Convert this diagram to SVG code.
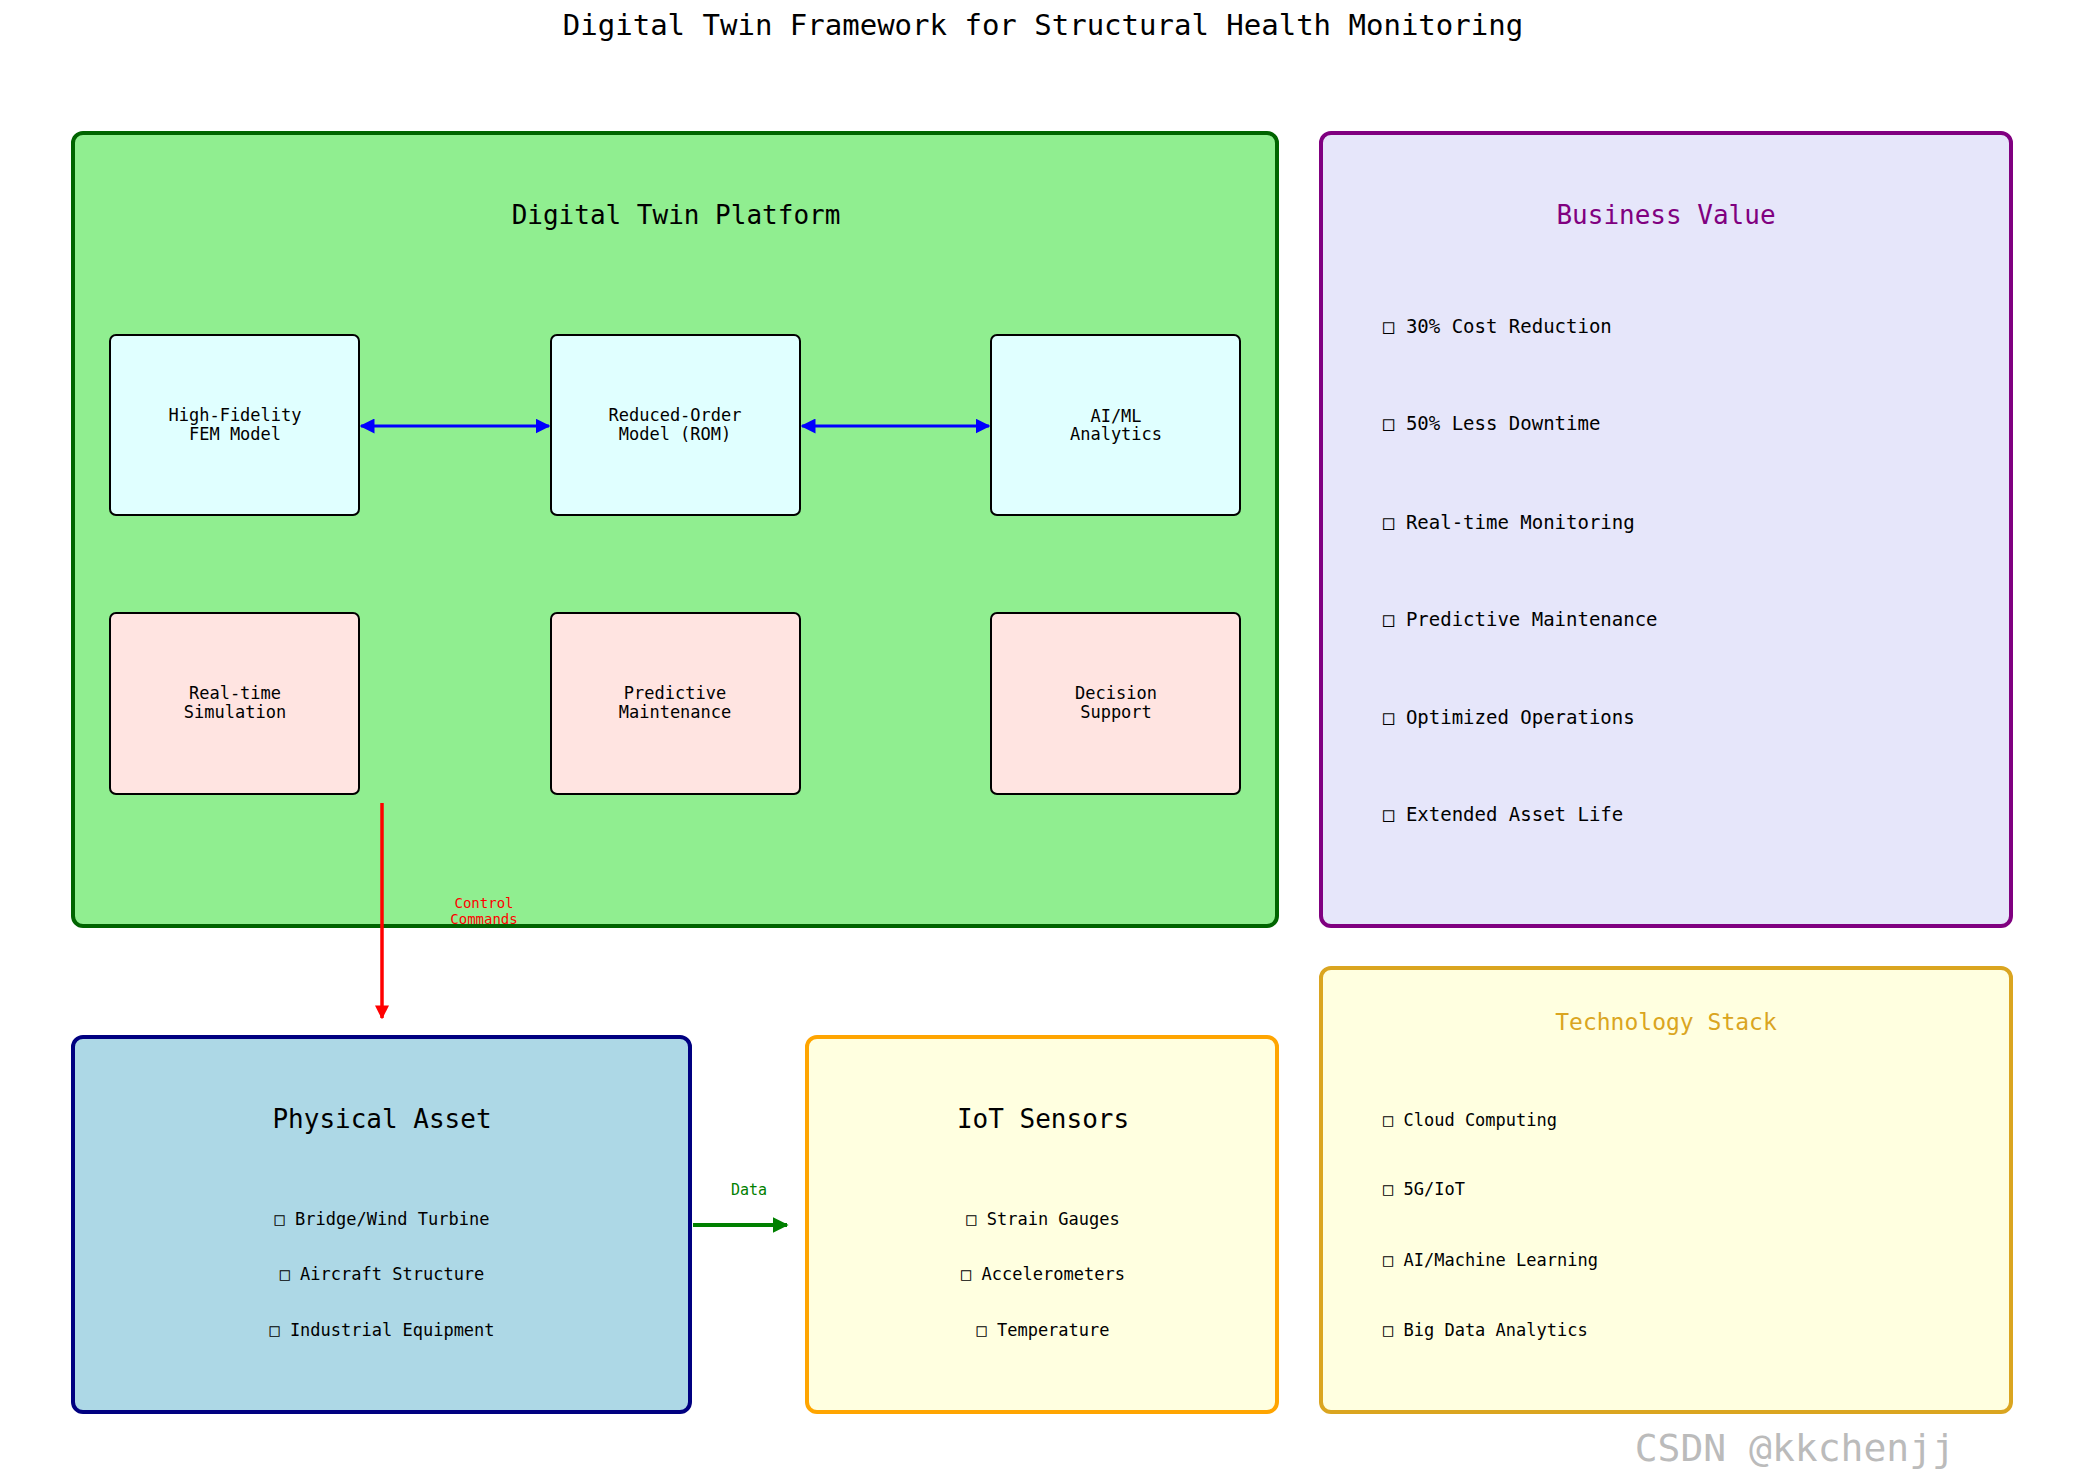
<svg xmlns="http://www.w3.org/2000/svg" width="2085" height="1484" viewBox="0 0 2085 1484">
<style>
text{font-family:"DejaVu Sans Mono","Liberation Mono",monospace;dominant-baseline:middle}
.c{text-anchor:middle}
.big{font-size:26px}
.t{font-size:17px}
.i{font-size:17px}
.b{font-size:19px}
.inner{stroke:#000;stroke-width:2}
</style>
<defs>
<marker id="ab" viewBox="0 0 10 10" refX="9" refY="5" markerWidth="5" markerHeight="5" orient="auto-start-reverse"><path d="M0,0L10,5L0,10z" fill="#0000ff"/></marker>
<marker id="ar" viewBox="0 0 10 10" refX="9" refY="5" markerWidth="4" markerHeight="4" orient="auto"><path d="M0,0L10,5L0,10z" fill="#ff0000"/></marker>
<marker id="ag" viewBox="0 0 10 10" refX="9" refY="5" markerWidth="4" markerHeight="4" orient="auto"><path d="M0,0L10,5L0,10z" fill="#008000"/></marker>
</defs>
<rect width="2085" height="1484" fill="#fff"/>
<text x="1043" y="27" class="c" font-size="29">Digital Twin Framework for Structural Health Monitoring</text>
<g id="platform">
<rect x="73" y="133" width="1204" height="793" rx="10" fill="#90EE90" stroke="#006400" stroke-width="4"/>
<text x="676" y="216" class="c big">Digital Twin Platform</text>
</g>
<g id="fem"><rect class="inner" x="110" y="335" width="249" height="180" rx="6" fill="#E0FFFF"/><text x="235" y="416" class="c t">High-Fidelity</text><text x="235" y="435" class="c t">FEM Model</text></g>
<g id="rom"><rect class="inner" x="551" y="335" width="249" height="180" rx="6" fill="#E0FFFF"/><text x="675" y="416" class="c t">Reduced-Order</text><text x="675" y="435" class="c t">Model (ROM)</text></g>
<g id="aiml"><rect class="inner" x="991" y="335" width="249" height="180" rx="6" fill="#E0FFFF"/><text x="1116" y="417" class="c t">AI/ML</text><text x="1116" y="435" class="c t">Analytics</text></g>
<g id="sim"><rect class="inner" x="110" y="613" width="249" height="181" rx="6" fill="#FFE4E1"/><text x="235" y="694" class="c t">Real-time</text><text x="235" y="713" class="c t">Simulation</text></g>
<g id="pm"><rect class="inner" x="551" y="613" width="249" height="181" rx="6" fill="#FFE4E1"/><text x="675" y="694" class="c t">Predictive</text><text x="675" y="713" class="c t">Maintenance</text></g>
<g id="ds"><rect class="inner" x="991" y="613" width="249" height="181" rx="6" fill="#FFE4E1"/><text x="1116" y="694" class="c t">Decision</text><text x="1116" y="713" class="c t">Support</text></g>
<g id="business">
<rect x="1321" y="133" width="690" height="793" rx="10" fill="#E6E6FA" stroke="#800080" stroke-width="4"/>
<text x="1666" y="216" class="c big" fill="#800080" font-size="24">Business Value</text>
<text x="1383" y="327" class="b">□ 30% Cost Reduction</text>
<text x="1383" y="424" class="b">□ 50% Less Downtime</text>
<text x="1383" y="523" class="b">□ Real-time Monitoring</text>
<text x="1383" y="620" class="b">□ Predictive Maintenance</text>
<text x="1383" y="718" class="b">□ Optimized Operations</text>
<text x="1383" y="815" class="b">□ Extended Asset Life</text>
</g>
<g id="physical">
<rect x="73" y="1037" width="617" height="375" rx="10" fill="#ADD8E6" stroke="#000080" stroke-width="4"/>
<text x="382" y="1120" class="c big" font-size="24">Physical Asset</text>
<text x="382" y="1220" class="c i">□ Bridge/Wind Turbine</text>
<text x="382" y="1275" class="c i">□ Aircraft Structure</text>
<text x="382" y="1331" class="c i">□ Industrial Equipment</text>
</g>
<g id="iot">
<rect x="807" y="1037" width="470" height="375" rx="10" fill="#FFFFE0" stroke="#FFA500" stroke-width="4"/>
<text x="1043" y="1120" class="c big" font-size="24">IoT Sensors</text>
<text x="1043" y="1220" class="c i">□ Strain Gauges</text>
<text x="1043" y="1275" class="c i">□ Accelerometers</text>
<text x="1043" y="1331" class="c i">□ Temperature</text>
</g>
<g id="tech">
<rect x="1321" y="968" width="690" height="444" rx="10" fill="#FFFFE0" stroke="#DAA520" stroke-width="4"/>
<text x="1666" y="1023" class="c" font-size="23" fill="#DAA520">Technology Stack</text>
<text x="1383" y="1121" class="i">□ Cloud Computing</text>
<text x="1383" y="1190" class="i">□ 5G/IoT</text>
<text x="1383" y="1261" class="i">□ AI/Machine Learning</text>
<text x="1383" y="1331" class="i">□ Big Data Analytics</text>
</g>
<g id="connectors">
<line x1="361" y1="426" x2="549" y2="426" stroke="#0000ff" stroke-width="3" marker-start="url(#ab)" marker-end="url(#ab)"/>
<line x1="802" y1="426" x2="989" y2="426" stroke="#0000ff" stroke-width="3" marker-start="url(#ab)" marker-end="url(#ab)"/>
<line x1="382" y1="803" x2="382" y2="1018" stroke="#ff0000" stroke-width="3.5" marker-end="url(#ar)"/>
<text x="484" y="904" class="c" font-size="14" fill="#ff0000">Control</text>
<text x="484" y="920" class="c" font-size="14" fill="#ff0000">Commands</text>
<line x1="693" y1="1225" x2="787" y2="1225" stroke="#008000" stroke-width="4" marker-end="url(#ag)"/>
<text x="749" y="1190" class="c" font-size="15" fill="#008000">Data</text>
</g>
<text x="1955" y="1450" text-anchor="end" font-family="Liberation Sans,sans-serif" font-size="38" fill="#bbbbbb">CSDN @kkchenjj</text>
</svg>
